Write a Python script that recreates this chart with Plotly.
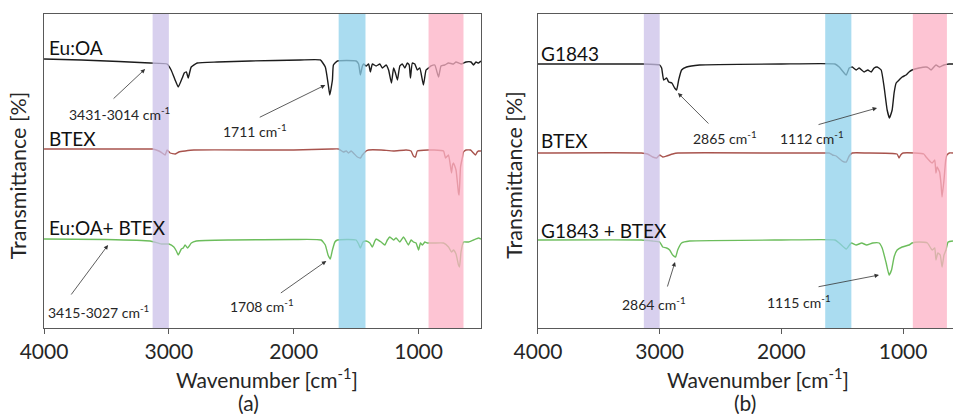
import plotly.graph_objects as go

# ---------------- data (wavenumber cm-1, stacked transmittance, arbitrary units) ----------------
euoa_x = [4000, 3700, 3400, 3150, 3014, 2982, 2950, 2925, 2893, 2877, 2860, 2845, 2821, 2773, 2613, 2348,
          1947, 1787, 1747, 1723, 1711, 1690, 1682, 1650, 1500, 1480, 1466, 1450, 1440, 1420, 1400, 1386,
          1370, 1340, 1310, 1290, 1260, 1240, 1217, 1200, 1185, 1169, 1150, 1130, 1110, 1090, 1075, 1065,
          1050, 1030, 1010, 990, 961, 940, 920, 900, 870, 840, 820, 790, 760, 720, 700, 660, 620, 580,
          560, 540, 520, 500]
euoa_y = [2.69, 2.68, 2.665, 2.65, 2.64, 2.58, 2.48, 2.41, 2.50, 2.55, 2.56, 2.50, 2.61, 2.65, 2.66, 2.67,
          2.68, 2.68, 2.61, 2.43, 2.33, 2.48, 2.63, 2.67, 2.67, 2.64, 2.53, 2.62, 2.64, 2.62, 2.64, 2.56,
          2.64, 2.62, 2.64, 2.60, 2.63, 2.58, 2.45, 2.60, 2.55, 2.48, 2.62, 2.64, 2.60, 2.65, 2.63, 2.50,
          2.65, 2.64, 2.58, 2.60, 2.43, 2.58, 2.60, 2.62, 2.63, 2.51, 2.62, 2.63, 2.65, 2.64, 2.66, 2.64,
          2.66, 2.66, 2.63, 2.66, 2.65, 2.67]

btex_a_x = [4000, 3200, 3130, 3080, 3054, 3030, 3014, 2990, 2950, 2920, 2870, 2800, 2000, 1700, 1640, 1602,
            1580, 1560, 1540, 1490, 1466, 1450, 1420, 1400, 1300, 1200, 1100, 1060, 1041, 1025, 1010, 920,
            880, 800, 784, 760, 736, 728, 720, 700, 680, 675, 664, 648, 640, 620, 584, 544, 530, 520, 500]
btex_a_y = [1.79, 1.79, 1.79, 1.77, 1.75, 1.73, 1.78, 1.75, 1.74, 1.76, 1.77, 1.78, 1.78, 1.79, 1.79, 1.76,
            1.77, 1.75, 1.77, 1.71, 1.70, 1.73, 1.77, 1.78, 1.78, 1.77, 1.78, 1.77, 1.72, 1.71, 1.77, 1.78,
            1.78, 1.77, 1.70, 1.73, 1.55, 1.63, 1.65, 1.58, 1.35, 1.33, 1.61, 1.71, 1.76, 1.78, 1.78, 1.73,
            1.76, 1.77, 1.77]

mix_a_x = [4000, 3500, 3150, 3060, 3000, 2960, 2940, 2925, 2900, 2885, 2870, 2850, 2820, 2780, 2500, 2000,
           1780, 1747, 1725, 1707, 1690, 1670, 1650, 1500, 1480, 1466, 1445, 1420, 1390, 1370, 1350, 1340,
           1300, 1270, 1250, 1230, 1200, 1180, 1150, 1121, 1100, 1081, 1060, 1041, 1020, 1000, 985, 969,
           950, 929, 880, 800, 760, 736, 720, 700, 680, 672, 660, 640, 600, 560, 520, 500]
mix_a_y = [0.89, 0.885, 0.87, 0.84, 0.84, 0.81, 0.77, 0.73, 0.79, 0.80, 0.83, 0.80, 0.85, 0.87, 0.88, 0.885,
           0.88, 0.83, 0.73, 0.69, 0.78, 0.86, 0.88, 0.88, 0.84, 0.80, 0.86, 0.87, 0.85, 0.81, 0.87, 0.89,
           0.86, 0.83, 0.88, 0.91, 0.88, 0.90, 0.86, 0.91, 0.87, 0.83, 0.88, 0.86, 0.85, 0.78, 0.85, 0.83,
           0.86, 0.85, 0.85, 0.85, 0.81, 0.76, 0.78, 0.74, 0.63, 0.61, 0.76, 0.86, 0.86, 0.88, 0.90, 0.89]

g1843_x = [4000, 3150, 3000, 2984, 2967, 2943, 2926, 2900, 2877, 2861, 2844, 2820, 2779, 2672, 2000, 1560,
           1525, 1467, 1443, 1418, 1385, 1361, 1320, 1290, 1262, 1238, 1213, 1180, 1156, 1131, 1112, 1090,
           1074, 1057, 1033, 1008, 975, 951, 926, 869, 811, 790, 770, 730, 700, 664, 623, 590]
g1843_y = [2.64, 2.64, 2.63, 2.60, 2.48, 2.50, 2.46, 2.45, 2.40, 2.38, 2.48, 2.58, 2.61, 2.63, 2.64, 2.64,
           2.61, 2.53, 2.60, 2.61, 2.58, 2.60, 2.56, 2.58, 2.56, 2.60, 2.61, 2.58, 2.41, 2.18, 2.10, 2.18,
           2.35, 2.45, 2.48, 2.51, 2.53, 2.56, 2.58, 2.60, 2.61, 2.60, 2.58, 2.63, 2.61, 2.63, 2.64, 2.64]

btex_b_x = [4000, 3150, 3100, 3057, 3025, 3000, 2975, 2943, 2893, 2850, 2000, 1650, 1607, 1580, 1550, 1500,
            1467, 1443, 1418, 1300, 1050, 1033, 1020, 1000, 900, 830, 811, 762, 740, 730, 720, 700, 689,
            680, 664, 650, 640, 620, 590]
btex_b_y = [1.75, 1.75, 1.74, 1.71, 1.70, 1.73, 1.71, 1.72, 1.74, 1.75, 1.75, 1.75, 1.75, 1.73, 1.72, 1.67,
            1.66, 1.72, 1.75, 1.75, 1.74, 1.70, 1.73, 1.75, 1.75, 1.74, 1.71, 1.65, 1.68, 1.55, 1.61, 1.56, 1.45,
            1.31, 1.48, 1.68, 1.73, 1.75, 1.75]

mix_b_x = [4000, 3150, 3060, 3000, 2975, 2943, 2918, 2893, 2869, 2852, 2820, 2754, 2000, 1560, 1525, 1467,
           1426, 1385, 1340, 1300, 1250, 1197, 1172, 1139, 1115, 1095, 1074, 1049, 1008, 951, 926, 869,
           800, 762, 740, 730, 715, 695, 680, 664, 648, 630, 590]
mix_b_y = [0.88, 0.88, 0.87, 0.86, 0.81, 0.80, 0.78, 0.73, 0.71, 0.78, 0.85, 0.87, 0.88, 0.88, 0.85, 0.79,
           0.85, 0.83, 0.85, 0.83, 0.85, 0.85, 0.80, 0.65, 0.53, 0.58, 0.71, 0.78, 0.81, 0.83, 0.85, 0.86,
           0.85, 0.78, 0.80, 0.68, 0.75, 0.73, 0.61, 0.73, 0.78, 0.86, 0.87]

# highlighted bands (cm-1)
band_lo = [3000, 1425, 640]
band_hi = [3130, 1640, 920]
band_colors = ["rgb(203,192,232)", "rgb(142,208,235)", "rgb(252,176,196)"]

# series labels: (text, x, y)
labels_a = [("Eu:OA", 3975, 2.80), ("BTEX", 3975, 1.90), ("Eu:OA+ BTEX", 3975, 1.01)]
labels_b = [("G1843", 3990, 2.74), ("BTEX", 3990, 1.88), ("G1843 + BTEX", 3990, 0.98)]

# peak annotations: (text, text_x, text_y, tail_x, tail_y, tip_x, tip_y)
peaks_a = [("3431-3014 cm<sup>-1</sup>", 3399, 2.15, 3455, 2.28, 3190, 2.59),
           ("1711 cm<sup>-1</sup>", 2308, 1.98, 2284, 2.10, 1747, 2.43),
           ("3415-3027 cm<sup>-1</sup>", 3567, 0.17, 3791, 0.32, 3487, 0.83),
           ("1708 cm<sup>-1</sup>", 2252, 0.23, 2115, 0.34, 1739, 0.67)]
peaks_b = [("2865 cm<sup>-1</sup>", 2463, 1.91, 2587, 2.03, 2850, 2.35),
           ("1112 cm<sup>-1</sup>", 1749, 1.91, 1707, 2.03, 1214, 2.20),
           ("2864 cm<sup>-1</sup>", 3047, 0.25, 2940, 0.40, 2874, 0.66),
           ("1115 cm<sup>-1</sup>", 1855, 0.27, 1707, 0.41, 1198, 0.53)]

x_ticks = [4000, 3000, 2000, 1000]

FONT = "Lato, 'Open Sans', sans-serif"
TXT = "#262626"
BLACK = "#1c1c1c"
RED = "#a8534d"
GREEN = "#6cbd5c"

fig = go.Figure()
for xs, ys, col, xa, ya in [
    (euoa_x, euoa_y, BLACK, "x", "y"),
    (btex_a_x, btex_a_y, RED, "x", "y"),
    (mix_a_x, mix_a_y, GREEN, "x", "y"),
    (g1843_x, g1843_y, BLACK, "x2", "y2"),
    (btex_b_x, btex_b_y, RED, "x2", "y2"),
    (mix_b_x, mix_b_y, GREEN, "x2", "y2"),
]:
    fig.add_trace(go.Scatter(x=xs, y=ys, mode="lines", xaxis=xa, yaxis=ya,
                             line=dict(color=col, width=1.4, shape="spline", smoothing=0.4),
                             showlegend=False, hoverinfo="skip"))

shapes = []
for xr, yr in [("x", "y domain"), ("x2", "y2 domain")]:
    for lo, hi, c in zip(band_lo, band_hi, band_colors):
        shapes.append(dict(type="rect", xref=xr, yref=yr, x0=lo, x1=hi, y0=0, y1=1,
                           fillcolor=c, opacity=0.75, line=dict(width=0), layer="above"))

ann = []
for (labels, peaks, xr, yr) in [(labels_a, peaks_a, "x", "y"), (labels_b, peaks_b, "x2", "y2")]:
    for t, x, y in labels:
        ann.append(dict(text=t, x=x, y=y, xref=xr, yref=yr, xanchor="left", yanchor="middle",
                        showarrow=False, font=dict(family=FONT, size=19, color="#111")))
    for t, tx, ty, ax, ay, px, py in peaks:
        ann.append(dict(text=t, x=tx, y=ty, xref=xr, yref=yr, xanchor="center", yanchor="middle",
                        showarrow=False, font=dict(family=FONT, size=14, color=TXT)))
        ann.append(dict(text="", x=px, y=py, xref=xr, yref=yr, ax=ax, ay=ay, axref=xr, ayref=yr,
                        showarrow=True, arrowhead=2, arrowsize=1.1, arrowwidth=0.8,
                        arrowcolor="#333", standoff=0, startstandoff=0))

for xc, bc, lab in [(0.280, 0.261, "(a)"), (0.795, 0.782, "(b)")]:
    ann.append(dict(text="Wavenumber [cm<sup>-1</sup>]", x=xc, y=0.087, xref="paper", yref="paper",
                    xanchor="center", yanchor="middle",
                    showarrow=False, font=dict(family=FONT, size=21, color=TXT)))
    ann.append(dict(text=lab, x=bc, y=0.027, xref="paper", yref="paper",
                    xanchor="center", yanchor="middle",
                    showarrow=False, font=dict(family=FONT, size=21, color=TXT)))
for xc in [0.019, 0.540]:
    ann.append(dict(text="Transmittance [%]", x=xc, y=0.577, xref="paper", yref="paper",
                    xanchor="center", yanchor="middle",
                    textangle=-90, showarrow=False, font=dict(family=FONT, size=21.5, color=TXT)))

axis_common = dict(showgrid=False, zeroline=False, showline=True, linecolor="#595959", linewidth=1,
                   ticks="outside", ticklen=5, tickcolor="#595959", tickvals=x_ticks, automargin=False,
                   tickfont=dict(family=FONT, size=21, color=TXT))
yaxis_common = dict(showgrid=False, zeroline=False, showline=True, linecolor="#595959", linewidth=1,
                    showticklabels=False, ticks="", range=[0, 3.14], automargin=False)

fig.update_layout(
    width=953, height=414, paper_bgcolor="white", plot_bgcolor="white",
    margin=dict(l=0, r=0, t=0, b=0, autoexpand=False),
    xaxis=dict(domain=[0.0462, 0.5047], range=[4000, 500], anchor="y", mirror=True, **axis_common),
    yaxis=dict(domain=[0.2077, 0.9662], anchor="x", mirror=True, **yaxis_common),
    xaxis2=dict(domain=[0.5645, 1.0], range=[4000, 590], anchor="y2", mirror=True, **axis_common),
    yaxis2=dict(domain=[0.2077, 0.9662], anchor="x2", mirror=False, **yaxis_common),
    shapes=shapes, annotations=ann,
)

fig.write_html("out.html", config={"displayModeBar": False},
               post_script="document.body.style.margin='0px';")
